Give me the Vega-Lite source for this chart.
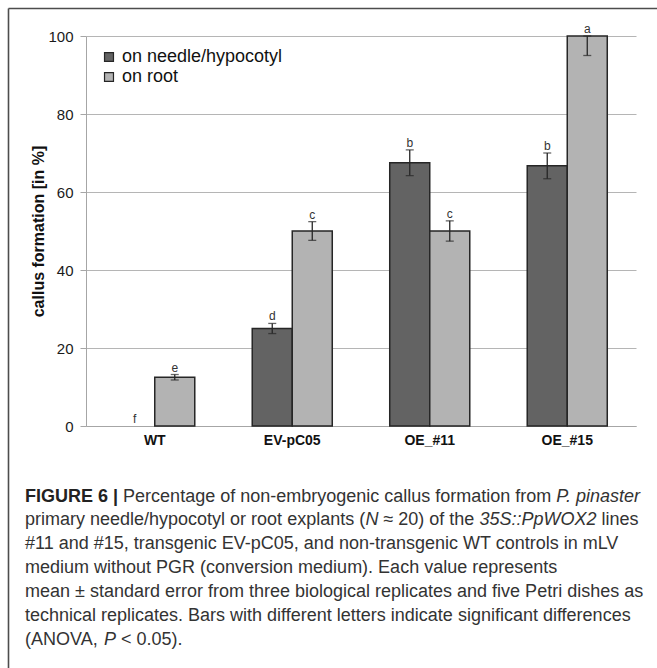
{
  "$schema": "https://vega.github.io/schema/vega-lite/v6.json",
  "width": 649,
  "height": 660,
  "autosize": {"type": "none"},
  "padding": {"left": 8, "top": 8, "right": 0, "bottom": 0},
  "background": "white",
  "config": {"view": {"stroke": null}, "font": "Liberation Sans"},
  "datasets": {
    "frame": [{"k": 0}],
    "bars": [
      {"grp": "WT", "series": "on needle/hypocotyl", "val": 0, "lo": 0, "hi": 0, "sig": "f"},
      {"grp": "WT", "series": "on root", "val": 12.5, "lo": 11.8, "hi": 13.2, "sig": "e"},
      {"grp": "EV-pC05", "series": "on needle/hypocotyl", "val": 25, "lo": 23.7, "hi": 26.3, "sig": "d"},
      {"grp": "EV-pC05", "series": "on root", "val": 50, "lo": 47.6, "hi": 52.4, "sig": "c"},
      {"grp": "OE_#11", "series": "on needle/hypocotyl", "val": 67.5, "lo": 64.2, "hi": 70.8, "sig": "b"},
      {"grp": "OE_#11", "series": "on root", "val": 50, "lo": 47.4, "hi": 52.6, "sig": "c"},
      {"grp": "OE_#15", "series": "on needle/hypocotyl", "val": 66.7, "lo": 63.4, "hi": 70.0, "sig": "b"},
      {"grp": "OE_#15", "series": "on root", "val": 100, "lo": 95, "hi": 105, "sig": "a"}
    ],
    "caption": [
      {"line": 1, "seg": "b0", "text": "FIGURE 6 |"},
      {"line": 1, "seg": "n1", "text": "Percentage of non-embryogenic callus formation from"},
      {"line": 1, "seg": "i1", "text": "P. pinaster"},
      {"line": 2, "seg": "n0", "text": "primary needle/hypocotyl or root explants ("},
      {"line": 2, "seg": "i2", "text": "N"},
      {"line": 2, "seg": "n2", "text": "≈ 20) of the"},
      {"line": 2, "seg": "i3", "text": "35S::PpWOX2"},
      {"line": 2, "seg": "n3", "text": "lines"},
      {"line": 3, "seg": "n0", "text": "#11 and #15, transgenic EV-pC05, and non-transgenic WT controls in mLV"},
      {"line": 4, "seg": "n0", "text": "medium without PGR (conversion medium). Each value represents"},
      {"line": 5, "seg": "n0", "text": "mean ± standard error from three biological replicates and five Petri dishes as"},
      {"line": 6, "seg": "n0", "text": "technical replicates. Bars with different letters indicate significant differences"},
      {"line": 7, "seg": "n0", "text": "(ANOVA,"},
      {"line": 7, "seg": "i4", "text": "P"},
      {"line": 7, "seg": "n4", "text": "< 0.05)."}
    ]
  },
  "layer": [
    {
      "data": {"name": "frame"},
      "mark": {"type": "point", "opacity": 0},
      "encoding": {
        "x": {"field": "k", "type": "quantitative", "scale": {"domain": [0, 1]},
          "axis": {"orient": "top", "labels": false, "ticks": false, "grid": false, "title": null, "domainColor": "#4d4d4d", "domainWidth": 1.6}},
        "y": {"field": "k", "type": "quantitative", "scale": {"domain": [0, 1]},
          "axis": {"orient": "left", "labels": false, "ticks": false, "grid": false, "title": null, "domainColor": "#4d4d4d", "domainWidth": 1.6}}
      }
    },
    {
      "data": {"name": "bars"},
      "encoding": {
        "x": {"field": "grp", "type": "nominal", "sort": ["WT", "EV-pC05", "OE_#11", "OE_#15"],
          "scale": {"range": [78, 628], "paddingInner": 0.418, "paddingOuter": 0.209},
          "axis": {"orient": "bottom", "offset": -242, "ticks": false, "grid": false, "title": null, "domainColor": "#a6a6a6", "domainWidth": 1,
            "labelAngle": 0, "labelFont": "Liberation Sans", "labelFontSize": 14, "labelFontWeight": "bold", "labelColor": "#111", "labelPadding": 7}},
        "xOffset": {"field": "series", "type": "nominal", "sort": ["on needle/hypocotyl", "on root"]}
      },
      "layer": [
        {
          "transform": [{"filter": "datum.val > 0"}],
          "mark": {"type": "bar", "stroke": "#262626", "strokeWidth": 1.5},
          "encoding": {
            "y": {"field": "val", "type": "quantitative", "title": "callus formation [in %]",
              "scale": {"domain": [0, 100], "range": [418, 28], "clamp": true, "nice": false},
              "axis": {"orient": "left", "offset": -78, "values": [0, 20, 40, 60, 80, 100], "grid": true, "gridColor": "#b5b5b5", "gridWidth": 1,
                "domainColor": "#a6a6a6", "tickColor": "#a6a6a6", "tickSize": 6, "labelPadding": 7,
                "labelFont": "Liberation Sans", "labelFontSize": 15, "labelColor": "#1a1a1a",
                "title": "callus formation [in %]", "titleFont": "Liberation Sans", "titleFontSize": 16, "titleFontWeight": "bold", "titleColor": "#111", "titlePadding": 1}},
            "color": {"field": "series", "type": "nominal", "sort": ["on needle/hypocotyl", "on root"],
              "scale": {"range": ["#636363", "#b3b3b3"]},
              "legend": {"orient": "none", "legendX": 92, "legendY": 40, "title": null, "symbolType": "square", "symbolSize": 80,
                "symbolStrokeColor": "#262626", "symbolStrokeWidth": 1.2, "labelFont": "Liberation Sans", "labelFontSize": 18,
                "labelColor": "#111", "labelOffset": 4, "labelLimit": 0, "rowPadding": 2, "padding": 0}}
          }
        },
        {
          "transform": [{"filter": "datum.hi > datum.lo"}],
          "mark": {"type": "rule", "color": "#262626", "strokeWidth": 1.3},
          "encoding": {
            "y": {"field": "lo", "type": "quantitative", "title": "callus formation [in %]"},
            "y2": {"field": "hi"}
          }
        },
        {
          "transform": [{"filter": "datum.hi > datum.lo"}],
          "mark": {"type": "tick", "orient": "horizontal", "size": 8, "thickness": 1.3, "color": "#262626"},
          "encoding": {"y": {"field": "lo", "type": "quantitative", "title": "callus formation [in %]"}}
        },
        {
          "transform": [{"filter": "datum.hi > datum.lo"}],
          "mark": {"type": "tick", "orient": "horizontal", "size": 8, "thickness": 1.3, "color": "#262626"},
          "encoding": {"y": {"field": "hi", "type": "quantitative", "title": "callus formation [in %]"}}
        },
        {
          "mark": {"type": "text", "baseline": "alphabetic", "dy": -3, "fontSize": 12, "color": "#333", "font": "Liberation Sans"},
          "encoding": {
            "y": {"field": "hi", "type": "quantitative", "title": "callus formation [in %]"},
            "text": {"field": "sig"}
          }
        }
      ]
    },
    {
      "data": {"name": "caption"},
      "encoding": {
        "x": {"datum": 0, "type": "quantitative", "scale": {"domain": [0, 1], "range": [17, 640]}, "axis": null},
        "y": {"field": "line", "type": "quantitative", "scale": {"domain": [1, 7], "range": [493.5, 637], "zero": false, "nice": false}, "axis": null},
        "text": {"field": "text"}
      },
      "layer": [
        {"transform": [{"filter": "datum.seg == 'b0'"}], "mark": {"type": "text", "align": "left", "baseline": "alphabetic", "fontSize": 18, "fontWeight": "bold", "color": "#222", "dx": 0}},
        {"transform": [{"filter": "datum.seg == 'n0'"}], "mark": {"type": "text", "align": "left", "baseline": "alphabetic", "fontSize": 18, "color": "#333", "dx": 0}},
        {"transform": [{"filter": "datum.seg == 'n1'"}], "mark": {"type": "text", "align": "left", "baseline": "alphabetic", "fontSize": 18, "color": "#333", "dx": 98.1}},
        {"transform": [{"filter": "datum.seg == 'i1'"}], "mark": {"type": "text", "align": "left", "baseline": "alphabetic", "fontSize": 18, "fontStyle": "italic", "color": "#333", "dx": 531.3}},
        {"transform": [{"filter": "datum.seg == 'i2'"}], "mark": {"type": "text", "align": "left", "baseline": "alphabetic", "fontSize": 18, "fontStyle": "italic", "color": "#333", "dx": 340.4}},
        {"transform": [{"filter": "datum.seg == 'n2'"}], "mark": {"type": "text", "align": "left", "baseline": "alphabetic", "fontSize": 18, "color": "#333", "dx": 358.4}},
        {"transform": [{"filter": "datum.seg == 'i3'"}], "mark": {"type": "text", "align": "left", "baseline": "alphabetic", "fontSize": 18, "fontStyle": "italic", "color": "#333", "dx": 454.4}},
        {"transform": [{"filter": "datum.seg == 'n3'"}], "mark": {"type": "text", "align": "left", "baseline": "alphabetic", "fontSize": 18, "color": "#333", "dx": 576.4}},
        {"transform": [{"filter": "datum.seg == 'i4'"}], "mark": {"type": "text", "align": "left", "baseline": "alphabetic", "fontSize": 18, "fontStyle": "italic", "color": "#333", "dx": 79.0}},
        {"transform": [{"filter": "datum.seg == 'n4'"}], "mark": {"type": "text", "align": "left", "baseline": "alphabetic", "fontSize": 18, "color": "#333", "dx": 96.0}}
      ]
    }
  ],
  "resolve": {
    "scale": {"x": "independent", "y": "independent"},
    "axis": {"x": "independent", "y": "independent"}
  }
}
